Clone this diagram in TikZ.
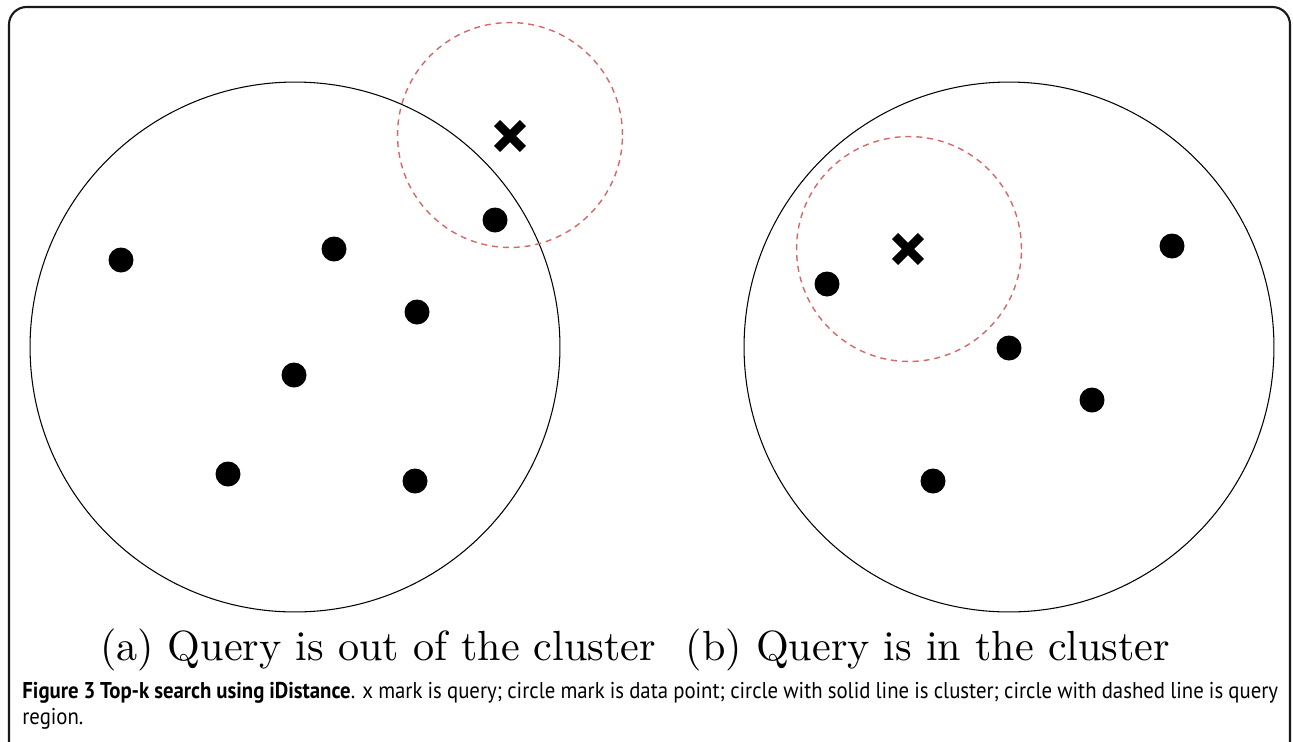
\documentclass[tikz,border=0pt]{standalone}
\usepackage{fontspec}
\newfontfamily\capfont{PT Sans}[FakeStretch=0.91]
\newfontfamily\subfont{lmroman10-regular.otf}
\usetikzlibrary{positioning,shapes.misc}
\definecolor{idxInk}{RGB}{0,0,0}
\definecolor{idxRed}{RGB}{214,104,104}
\definecolor{idxFrame}{RGB}{25,25,25}

\begin{document}
\begin{tikzpicture}[x=0.02cm,y=-0.02cm,
      cluster/.style={circle,draw=idxInk,line width=0.6pt,minimum size=10.6cm,inner sep=0pt},
      qregion/.style={circle,draw=idxRed,dash pattern=on 3.4pt off 2.8pt,line width=0.8pt,minimum size=4.5cm,inner sep=0pt},
      datapt/.style={circle,fill=idxInk,inner sep=0pt,minimum size=0.5cm},
      qmark/.style={cross out,draw=idxInk,line width=5pt,minimum size=0.34cm,inner sep=0pt},
      sub/.style={font=\subfont\fontsize{24}{28}\selectfont},
      caption/.style={anchor=north west,text width=25.12cm,align=justify,inner sep=0pt,font=\capfont\fontsize{13}{14.5}\selectfont}]
    \useasboundingbox (0,0) rectangle (1293,741);
    \clip (0,0) rectangle (1293,741);
    \draw[idxFrame,line width=1.2pt,rounded corners=10pt] (9,7) rectangle (1290,770);
    % (a) query outside
    \node[cluster] (ca) at (295,347) {};
    \node[qregion] (ra) at (510,135) {};
    \node[qmark] (qa) at (510,136) {};
    \node[datapt] (a1) at (121,260) {};
    \node[datapt] (a2) at (334,249) {};
    \node[datapt] (a3) at (495,220) {};
    \node[datapt] (a4) at (417,312) {};
    \node[datapt] (a5) at (294,375) {};
    \node[datapt] (a6) at (228,474) {};
    \node[datapt] (a7) at (415,481) {};
    % (b) query inside
    \node[cluster] (cb) at (1009,347) {};
    \node[qregion] (rb) at (909,249) {};
    \node[qmark] (qb) at (908,249) {};
    \node[datapt] (b1) at (827,284) {};
    \node[datapt] (b2) at (1172,246) {};
    \node[datapt] (b3) at (1009,348) {};
    \node[datapt] (b4) at (1092,400) {};
    \node[datapt] (b5) at (933,481) {};
    \node[sub] (la) at (378,650) {(a) Query is out of the cluster};
    \node[sub] (lb) at (928,650) {(b) Query is in the cluster};
    \node[caption] (cap) at (22,682) {\textbf{Figure 3 Top-k search using iDistance}. x mark is query; circle mark is data point; circle with solid line is cluster; circle with dashed line is query\linebreak region.};
  \end{tikzpicture}
\end{document}
